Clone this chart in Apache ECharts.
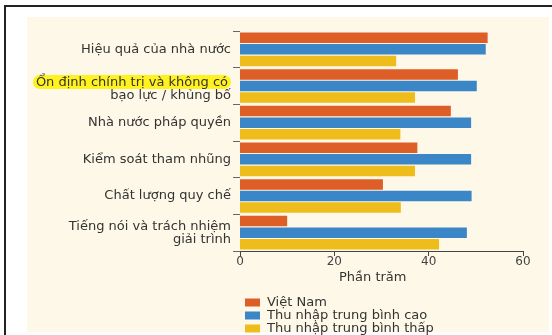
<!DOCTYPE html>
<html><head><meta charset="utf-8">
<script src="https://cdn.jsdelivr.net/npm/echarts@6/dist/echarts.min.js"></script>
<style>html,body{margin:0;padding:0;background:#fff;overflow:hidden}#c{width:552px;height:335px}</style>
</head><body><div id="c"></div>
<script>
var categories = [
  'Hiệu quả của nhà nước',
  'Ổn định chính trị và không có\nbạo lực / khủng bố',
  'Nhà nước pháp quyền',
  'Kiểm soát tham nhũng',
  'Chất lượng quy chế',
  'Tiếng nói và trách nhiệm\ngiải trình'
];
var seriesNames = ['Việt Nam', 'Thu nhập trung bình cao', 'Thu nhập trung bình thấp'];
var vietnam = [52.5, 46.2, 44.7, 37.6, 30.3, 10.0];
var upperMiddle = [52.1, 50.2, 49.0, 49.0, 49.1, 48.1];
var lowerMiddle = [33.1, 37.1, 34.0, 37.1, 34.1, 42.2];
var xTicks = [0, 20, 40, 60];
var axisTitle = 'Phần trăm';

var colors = ['#DD5E27', '#3A86C6', '#EFBD1B'];
var font = '"DejaVu Sans", sans-serif';
var chart = echarts.init(document.getElementById('c'), null, {renderer: 'canvas'});
var values = [vietnam, upperMiddle, lowerMiddle];
chart.setOption({
  backgroundColor: '#ffffff',
  animation: false,
  textStyle: {fontFamily: font},
  graphic: [
    {type: 'rect', z: -10, shape: {x: 27, y: 17, width: 522, height: 315}, style: {fill: '#FEF8E8'}},
    {type: 'rect', z: -9, shape: {x: 4, y: 5, width: 548, height: 2}, style: {fill: '#222'}},
    {type: 'rect', z: -9, shape: {x: 4, y: 5, width: 2, height: 330}, style: {fill: '#222'}},
    {type: 'text', left: 339, top: 271, style: {text: axisTitle, font: '13px ' + font, fill: '#333'}}
  ],
  grid: {left: 240, right: 29, top: 31, bottom: 84, containLabel: false},
  xAxis: {
    type: 'value', min: xTicks[0], max: xTicks[xTicks.length - 1], interval: 20,
    splitLine: {show: false},
    axisLine: {show: true, lineStyle: {color: '#444', width: 1.2}},
    axisTick: {show: true, length: 5, lineStyle: {color: '#444'}},
    axisLabel: {color: '#444', fontSize: 12, margin: 5, fontFamily: font}
  },
  yAxis: {
    type: 'category', data: categories, inverse: true,
    axisLine: {show: false},
    axisTick: {show: true, length: 7, lineStyle: {color: '#666'}},
    axisLabel: {
      margin: 9, color: '#333', fontSize: 13, fontFamily: font, lineHeight: 13,
      formatter: function (v) {
        if (v.indexOf('Ổn định') === 0) {
          var parts = v.split('\n');
          return '{e| }\n{hl|' + parts[0] + '}\n{n|' + parts[1] + '}';
        }
        return v;
      },
      rich: {
        e: {fontSize: 1, lineHeight: 6},
        hl: {backgroundColor: '#FFF21F', borderRadius: 7, padding: [1, 3, 0, 3], fontSize: 13, color: '#333', fontFamily: font, lineHeight: 14},
        n: {fontSize: 13, color: '#333', fontFamily: font, lineHeight: 14}
      }
    }
  },
  legend: {
    orient: 'vertical', left: 240, top: 291, height: 60,
    itemWidth: 15, itemHeight: 8, itemGap: 0, icon: 'rect',
    textStyle: {fontSize: 13, color: '#333', fontFamily: font, lineHeight: 13, padding: [0, 0, 0, 2]},
    data: seriesNames
  },
  series: seriesNames.map(function (n, i) {
    return {
      name: n, type: 'bar', data: values[i], barWidth: 10.5, barGap: '10%',
      itemStyle: {color: colors[i]}
    };
  })
});
</script></body></html>
